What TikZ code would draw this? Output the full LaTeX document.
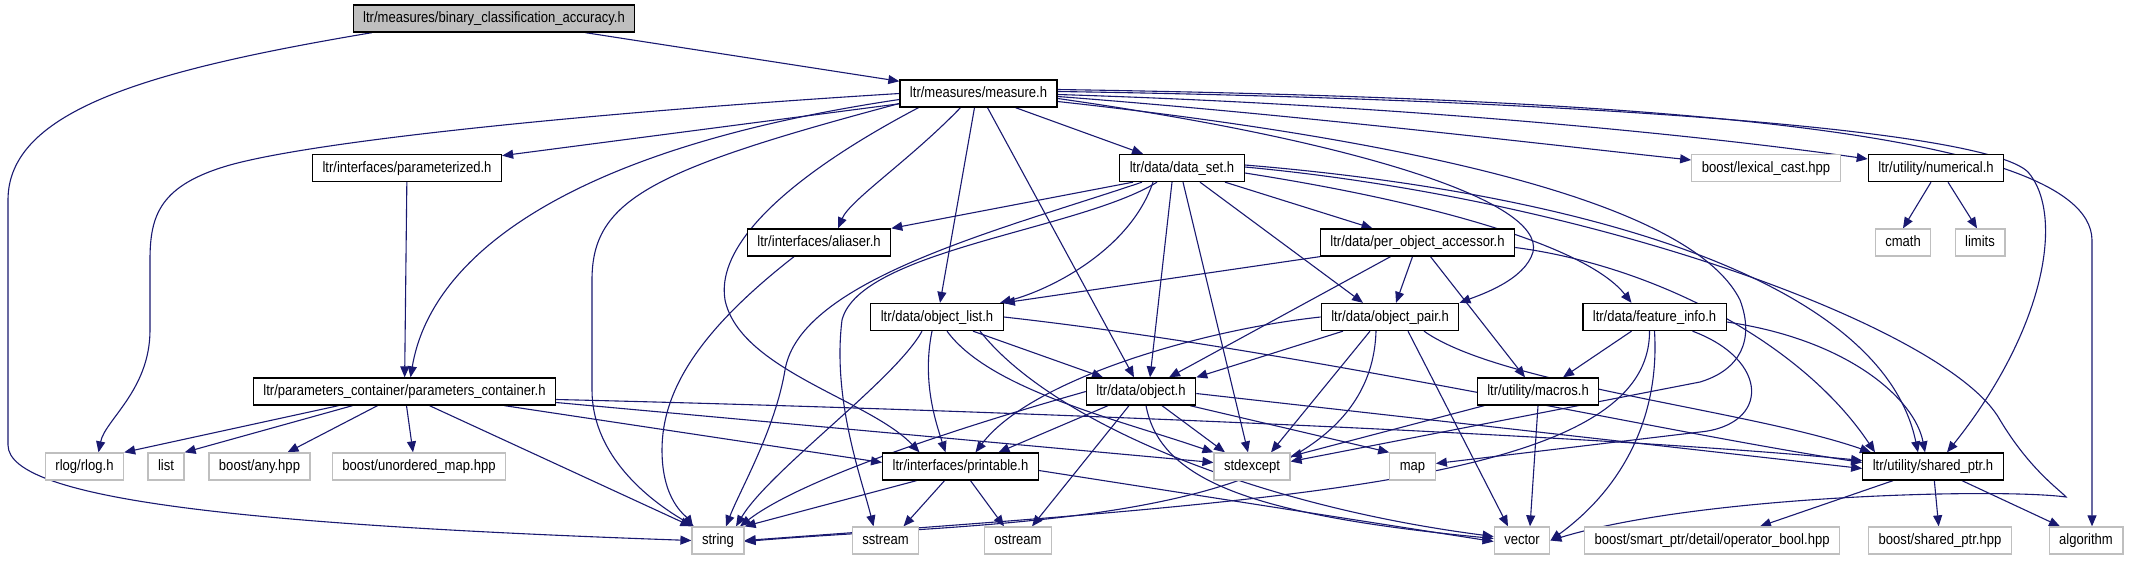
\documentclass[tikz,border=0pt]{standalone}
\usepackage{fontspec}
\setmainfont{Liberation Sans}[FakeStretch=0.87]
\usetikzlibrary{arrows.meta}
\definecolor{edgeBlue}{HTML}{191970}
\definecolor{sysGray}{HTML}{BFBFBF}
\pgfdeclarelayer{bg}
\pgfsetlayers{bg,main}

\begin{document}
\begin{tikzpicture}[x=1pt, y=-1pt,
        hdr/.style={draw=black, line width=1.3pt, fill=white, minimum height=27pt, inner xsep=10pt, inner ysep=0pt, text height=11pt, text depth=3pt, font=\fontsize{15}{17}\selectfont},
        sys/.style={hdr, draw=sysGray},
        cur/.style={hdr, fill=sysGray},
        inc/.style={draw=edgeBlue, line width=1.1pt, -{Triangle[length=11pt, width=9pt]}}
    ]
        \useasboundingbox (0,0) rectangle (2140,560);

        % headers, row by row
        \node[cur] (bca) at (494,18.5) {ltr/measures/binary\_classification\_accuracy.h};
        \node[hdr] (measure) at (978.5,93.5) {ltr/measures/measure.h};
        \node[hdr] (parameterized) at (407,168) {ltr/interfaces/parameterized.h};
        \node[hdr] (dataset) at (1182,168) {ltr/data/data\_set.h};
        \node[sys] (lexcast) at (1766,168) {boost/lexical\_cast.hpp};
        \node[hdr] (numerical) at (1936,168) {ltr/utility/numerical.h};
        \node[hdr] (aliaser) at (819,242.5) {ltr/interfaces/aliaser.h};
        \node[hdr] (poa) at (1417.5,242.5) {ltr/data/per\_object\_accessor.h};
        \node[sys] (cmath) at (1903,242.5) {cmath};
        \node[sys] (limits) at (1980,242.5) {limits};
        \node[hdr] (objlist) at (937,317) {ltr/data/object\_list.h};
        \node[hdr] (objpair) at (1390,317) {ltr/data/object\_pair.h};
        \node[hdr] (featinfo) at (1654.5,317) {ltr/data/feature\_info.h};
        \node[hdr] (paramcont) at (404.5,391.5) {ltr/parameters\_container/parameters\_container.h};
        \node[hdr] (object) at (1141,391.5) {ltr/data/object.h};
        \node[hdr] (macros) at (1538,391.5) {ltr/utility/macros.h};
        \node[sys] (rlog) at (84.5,466.5) {rlog/rlog.h};
        \node[sys] (list) at (166,466.5) {list};
        \node[sys] (anyhpp) at (259.5,466.5) {boost/any.hpp};
        \node[sys] (umap) at (419,466.5) {boost/unordered\_map.hpp};
        \node[hdr] (printable) at (960.5,466.5) {ltr/interfaces/printable.h};
        \node[sys] (stdexcept) at (1252,466.5) {stdexcept};
        \node[sys] (map) at (1412.5,466.5) {map};
        \node[hdr] (sharedptr) at (1933,466.5) {ltr/utility/shared\_ptr.h};
        \node[sys] (string) at (718,540.5) {string};
        \node[sys] (sstream) at (885.5,540.5) {sstream};
        \node[sys] (ostream) at (1018,540.5) {ostream};
        \node[sys] (vector) at (1522,540.5) {vector};
        \node[sys] (opbool) at (1712,540.5) {boost/smart\_ptr/detail/operator\_bool.hpp};
        \node[sys] (boostsp) at (1940,540.5) {boost/shared\_ptr.hpp};
        \node[sys] (algorithm) at (2086,540.5) {algorithm};

        \begin{pgfonlayer}{bg}
        % binary_classification_accuracy.h
        \draw[inc] (bca) -- (measure);
        \draw[inc] ([xshift=-122pt]bca.south) .. controls (150,70) and (8,110) .. (8,200) -- (8,445) .. controls (8,500) and (250,525) .. (string.west);

        % measure.h
        \draw[inc] (measure.west) .. controls (600,112) and (320,140) .. (230,165) .. controls (160,185) and (150,215) .. (150,260) -- (150,330) .. controls (150,390) and (105,420) .. ([xshift=14pt]rlog.north);
        \draw[inc] (measure) -- (parameterized);
        \draw[inc] ([yshift=-6pt]measure.west) .. controls (560,150) and (430,260) .. ([xshift=6pt]paramcont.north);
        \draw[inc] ([yshift=-10pt]measure.west) .. controls (650,170) and (592,200) .. (592,280) -- (592,390) .. controls (592,450) and (640,495) .. ([xshift=-24pt]string.north);
        \draw[inc] ([xshift=-60pt]measure.south) .. controls (800,170) and (715,240) .. (725,300) .. controls (740,370) and (870,400) .. ([xshift=-41pt]printable.north);
        \draw[inc] ([xshift=-18pt]measure.south) .. controls (910,160) and (850,200) .. ([xshift=19pt]aliaser.north);
        \draw[inc] ([xshift=-4pt]measure.south) -- ([xshift=3pt]objlist.north);
        \draw[inc] ([xshift=9pt]measure.south) -- ([xshift=-7pt]object.north);
        \draw[inc] ([xshift=37pt]measure.south) -- ([xshift=-39pt]dataset.north);
        \draw[inc] ([yshift=-3pt]measure.east) .. controls (1300,115) and (1550,145) .. ([yshift=8pt]lexcast.west);
        \draw[inc] ([yshift=-1pt]measure.east) .. controls (1400,105) and (1700,135) .. ([yshift=9pt]numerical.west);
        \draw[inc] ([yshift=2pt]measure.east) .. controls (1500,98) and (1980,125) .. (2028,172) .. controls (2065,215) and (2045,330) .. ([xshift=14pt]sharedptr.north);
        \draw[inc] ([yshift=4pt]measure.east) .. controls (1600,98) and (2090,125) .. (2092,240) -- ([xshift=6pt]algorithm.north);
        \draw[inc] ([yshift=-5pt]measure.east) .. controls (1350,140) and (1545,200) .. (1533,252) .. controls (1525,280) and (1480,295) .. (objpair.north east);
        \draw[inc] ([yshift=-8pt]measure.east) .. controls (1500,150) and (1700,220) .. (1740,300) .. controls (1755,340) and (1740,370) .. (1700,382) -- ([yshift=5pt]stdexcept.east);

        % data_set.h
        \draw[inc] ([xshift=-49pt]dataset.south) -- (aliaser.north east);
        \draw[inc] ([xshift=-40pt]dataset.south) .. controls (1000,230) and (800,280) .. (785,370) .. controls (775,430) and (740,490) .. ([xshift=8pt]string.north);
        \draw[inc] ([xshift=-25pt]dataset.south) .. controls (1080,230) and (860,250) .. (842,320) .. controls (832,400) and (862,480) .. ([xshift=-12pt]sstream.north);
        \draw[inc] ([xshift=-29pt]dataset.south) .. controls (1130,250) and (1050,290) .. ([xshift=63pt]objlist.north);
        \draw[inc] ([xshift=-10pt]dataset.south) -- ([xshift=9pt]object.north);
        \draw[inc] ([xshift=1pt]dataset.south) -- ([xshift=-4pt]stdexcept.north);
        \draw[inc] ([xshift=18pt]dataset.south) -- ([xshift=-27pt]objpair.north);
        \draw[inc] ([xshift=43pt]dataset.south) -- ([xshift=-45pt]poa.north);
        \draw[inc] ([yshift=-5pt]dataset.east) .. controls (1450,205) and (1590,250) .. ([xshift=-23pt]featinfo.north);
        \draw[inc] ([yshift=3pt]dataset.east) .. controls (1550,190) and (1880,270) .. ([xshift=-15pt]sharedptr.north);
        \draw[inc] ([yshift=1pt]dataset.east) .. controls (1600,200) and (1950,330) .. (2000,420) .. controls (2030,470) and (2060,490) .. (2066,497) .. controls (2000,488) and (1700,495) .. (vector.east);

        % per_object_accessor.h
        \draw[inc] (poa.south west) -- (objlist.north east);
        \draw[inc] ([xshift=-27pt]poa.south) -- ([xshift=28pt]object.north);
        \draw[inc] ([xshift=-5pt]poa.south) -- ([xshift=6pt]objpair.north);
        \draw[inc] ([xshift=13pt]poa.south) -- ([xshift=-13pt]macros.north);
        \draw[inc] ([yshift=-5pt]poa.east) .. controls (1650,265) and (1800,340) .. ([xshift=-58pt]sharedptr.north);

        % object_list.h
        \draw[inc] ([xshift=-15pt]objlist.south) .. controls (895,380) and (770,470) .. ([xshift=18pt]string.north);
        \draw[inc] ([xshift=-5pt]objlist.south) .. controls (922,380) and (935,420) .. ([xshift=-15pt]printable.north);
        \draw[inc] ([xshift=10pt]objlist.south) .. controls (990,390) and (1120,420) .. (stdexcept.north west);
        \draw[inc] ([xshift=36pt]objlist.south) -- ([xshift=-38pt]object.north);
        \draw[inc] ([xshift=43pt]objlist.south) .. controls (1050,420) and (1250,505) .. ([yshift=4pt]vector.west);
        \draw[inc] (objlist.east) .. controls (1300,350) and (1650,430) .. ([yshift=4pt]sharedptr.west);

        % object_pair.h
        \draw[inc] ([xshift=-47pt]objpair.south) -- (object.north east);
        \draw[inc] (objpair.west) .. controls (1200,330) and (1030,380) .. ([xshift=15pt]printable.north);
        \draw[inc] ([xshift=-20pt]objpair.south) -- ([xshift=19pt]stdexcept.north);
        \draw[inc] ([xshift=-14pt]objpair.south) .. controls (1370,530) and (1000,520) .. ([yshift=-1pt]string.east);
        \draw[inc] ([xshift=18pt]objpair.south) -- ([xshift=-14pt]vector.north);
        \draw[inc] ([xshift=34pt]objpair.south) .. controls (1500,385) and (1750,410) .. ([xshift=-62pt]sharedptr.north);

        % object.h
        \draw[inc] (object.west) .. controls (950,430) and (800,480) .. ([xshift=22pt]string.north);
        \draw[inc] ([xshift=-33pt]object.south) -- ([xshift=38pt]printable.north);
        \draw[inc] ([xshift=-12pt]object.south) -- ([xshift=14pt]ostream.north);
        \draw[inc] ([xshift=5pt]object.south) .. controls (1160,480) and (1250,515) .. ([yshift=2pt]vector.west);
        \draw[inc] ([xshift=21pt]object.south) -- ([xshift=-27pt]stdexcept.north);
        \draw[inc] ([xshift=49pt]object.south) -- (map.north west);
        \draw[inc] ([yshift=-2pt]object.east) -- ([yshift=-2pt]sharedptr.west);

        % macros.h
        \draw[inc] (macros) -- (stdexcept);
        \draw[inc] (macros.south) -- ([xshift=8pt]vector.north);

        % feature_info.h
        \draw[inc] ([xshift=-23pt]featinfo.south) -- ([xshift=25pt]macros.north);
        \draw[inc] ([xshift=-5pt]featinfo.south) .. controls (1650,480) and (1300,500) .. (string.east);
        \draw[inc] (featinfo.south) .. controls (1660,420) and (1620,490) .. (vector.east);
        \draw[inc] ([xshift=38pt]featinfo.south) .. controls (1770,360) and (1770,425) .. (1700,432) -- ([yshift=3pt]map.east);
        \draw[inc] ([yshift=-5pt]featinfo.east) .. controls (1850,340) and (1915,400) .. ([xshift=-8pt]sharedptr.north);

        % parameters_container.h
        \draw[inc] ([xshift=-66pt]paramcont.south) -- (rlog.north east);
        \draw[inc] ([xshift=-52pt]paramcont.south) -- (list.north east);
        \draw[inc] ([xshift=-27pt]paramcont.south) -- ([xshift=28pt]anyhpp.north);
        \draw[inc] ([xshift=2pt]paramcont.south) -- ([xshift=-6pt]umap.north);
        \draw[inc] ([xshift=25pt]paramcont.south) -- (string.north west);
        \draw[inc] ([xshift=100pt]paramcont.south) -- ([yshift=4pt]printable.west);
        \draw[inc] ([yshift=-11pt]paramcont.east) -- ([yshift=4pt]stdexcept.west);
        \draw[inc] ([yshift=-8pt]paramcont.east) .. controls (1000,410) and (1600,435) .. ([yshift=6pt]sharedptr.west);

        % printable.h
        \draw[inc] ([xshift=-44pt]printable.south) -- (string.north east);
        \draw[inc] ([xshift=-16pt]printable.south) -- ([xshift=18pt]sstream.north);
        \draw[inc] ([xshift=10pt]printable.south) -- ([xshift=-14pt]ostream.north);
        \draw[inc] ([yshift=-4pt]printable.east) -- ([yshift=-1pt]vector.west);

        % shared_ptr.h
        \draw[inc] ([xshift=-40pt]sharedptr.south) -- ([xshift=48pt]opbool.north);
        \draw[inc] (sharedptr) -- (boostsp);
        \draw[inc] ([xshift=29pt]sharedptr.south) -- ([xshift=-26pt]algorithm.north);

        % the rest
        \draw[inc] ([xshift=-5pt]numerical.south) -- (cmath.north);
        \draw[inc] ([xshift=12pt]numerical.south) -- ([xshift=-3pt]limits.north);
        \draw[inc] ([xshift=-25pt]aliaser.south) .. controls (700,330) and (662,390) .. (662,450) .. controls (662,500) and (685,515) .. ([xshift=-25pt]string.north);
        \draw[inc] (parameterized) -- (paramcont);
        \end{pgfonlayer}
    \end{tikzpicture}
\end{document}
